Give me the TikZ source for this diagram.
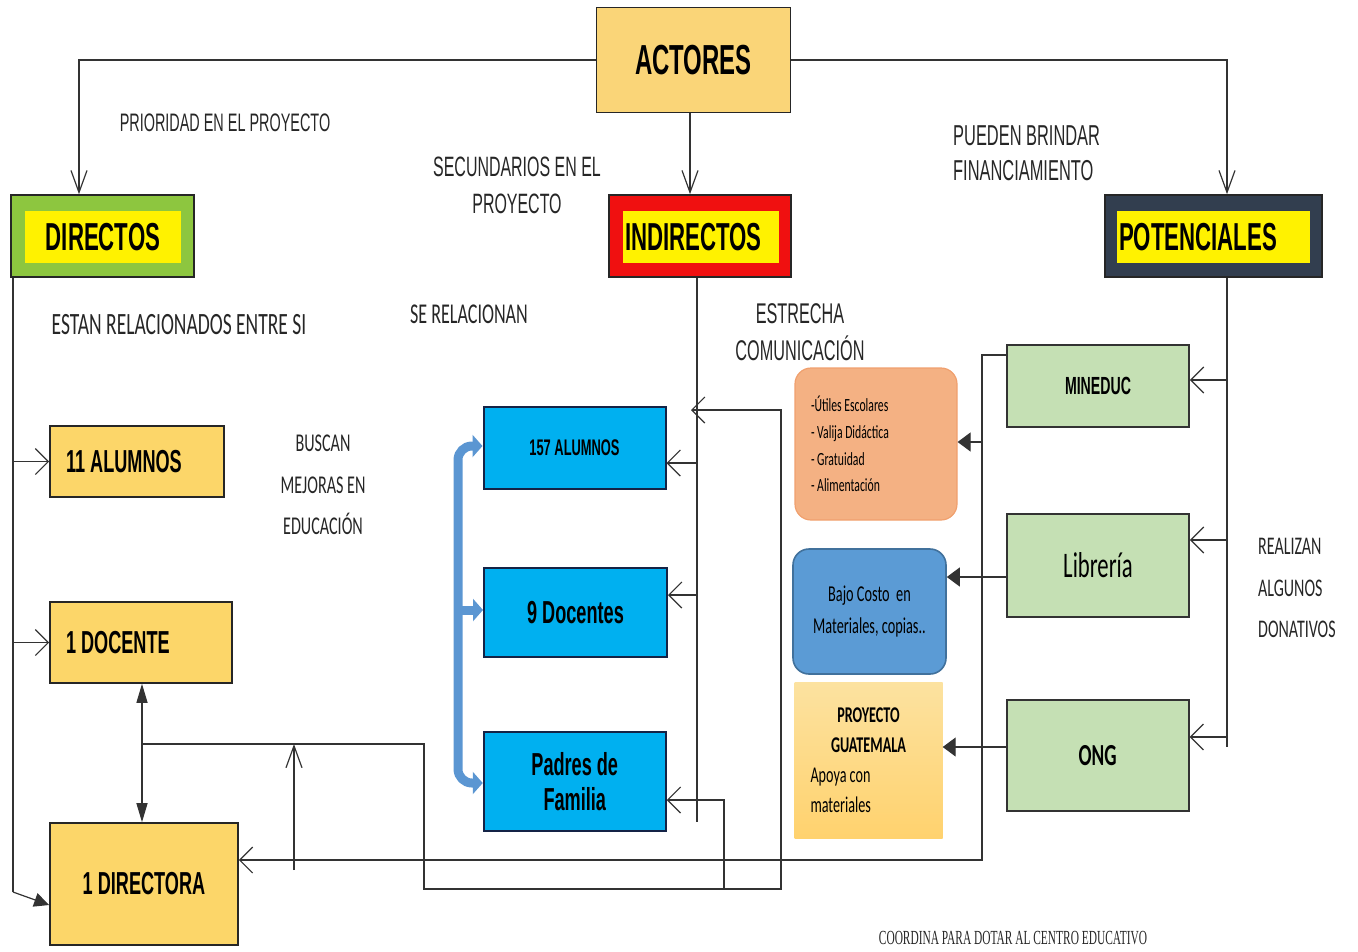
\documentclass[tikz,border=0pt]{standalone}
\usepackage{fontspec}
\setmainfont{Liberation Sans}
\newfontfamily\arialn[FakeStretch=0.57]{Liberation Sans}
\newfontfamily\calib[FakeStretch=0.63]{Carlito}
\newfontfamily\timesn[FakeStretch=0.57]{Liberation Serif}
\usetikzlibrary{arrows.meta,positioning,calc}
\definecolor{actorgold}{RGB}{250,213,120}
\definecolor{boxgold}{RGB}{252,214,105}
\definecolor{dirgreen}{RGB}{141,198,63}
\definecolor{indred}{RGB}{240,16,16}
\definecolor{potnavy}{RGB}{50,62,79}
\definecolor{cyanbox}{RGB}{0,176,240}
\definecolor{cyanedge}{RGB}{20,35,70}
\definecolor{mintgreen}{RGB}{197,224,180}
\definecolor{salmon}{RGB}{244,177,131}
\definecolor{salmonedge}{RGB}{240,160,110}
\definecolor{steelblue}{RGB}{91,155,213}
\definecolor{steeledge}{RGB}{65,113,156}
\definecolor{projtop}{RGB}{252,226,160}
\definecolor{projbot}{RGB}{255,210,110}
\definecolor{pipeblue}{RGB}{91,150,210}
\newcommand{\fsz}[2]{\fontsize{#1}{#2}\selectfont}

\tikzset{
  box/.style={draw=black!85, line width=1.6pt, inner sep=0pt},
  goldbox/.style={box, fill=boxgold},
  catbox/.style={box, minimum width=182, minimum height=82},
  inbox/.style={fill=yellow, inner sep=2pt, minimum height=52, font={\arialn\bfseries\fsz{39}{44}}},
  cyanbx/.style={box, draw=cyanedge, line width=2pt, fill=cyanbox, minimum width=182},
  greenbx/.style={box, draw=black!80, line width=1.8pt, fill=mintgreen, minimum width=182},
  supbox/.style={line width=1.2pt, rounded corners=16pt, inner sep=0pt},
  lbl/.style={text=black!85, inner sep=0pt},
  conn/.style={draw=black!80, line width=1.2pt},
  hbarb/.style={-{Straight Barb[length=13pt,width=26pt]}},
  vbarb/.style={-{Straight Barb[length=22pt,width=16pt]}},
  htri/.style={-{Triangle[length=13pt,width=19pt]}},
  dtri/.style={{Triangle[length=19pt,width=11pt]}-{Triangle[length=19pt,width=11pt]}},
  pipe/.style={draw=pipeblue, line width=9pt, rounded corners=14pt},
}

\begin{document}
\begin{tikzpicture}[x=1pt,y=-1pt]
    \useasboundingbox (0,0) rectangle (1358,951);

    % Head
    \node[box, fill=actorgold, minimum width=194, minimum height=105, font={\arialn\bfseries\fsz{42}{46}}] (actores) at (693.5,60) {ACTORES};

    % Categories
    \node[catbox, fill=dirgreen, minimum width=183] (directos) at (102.5,236) {};
    \node[inbox, text width=152, align=flush center] (directosT) at (103,237) {DIRECTOS};
    \node[catbox, fill=indred] (indirectos) at (700,236) {};
    \node[inbox, text width=152, align=flush left] (indirectosT) at (701,237) {INDIRECTOS};
    \node[catbox, fill=potnavy, minimum width=217] (potenciales) at (1213.5,236) {};
    \node[inbox, text width=189, align=flush left] (potencialesT) at (1213.5,237) {POTENCIALES};

    % Direct actors
    \node[goldbox, minimum height=71, text width=142, inner xsep=16pt, align=flush left, font={\arialn\bfseries\fsz{31.8}{36}}] (alum11) at (137,461.5) {11 ALUMNOS};
    \node[goldbox, minimum height=81, text width=150, inner xsep=16pt, align=flush left, font={\arialn\bfseries\fsz{31.8}{36}}] (docente1) at (141,642.5) {1 DOCENTE};
    \node[goldbox, minimum width=188, minimum height=122, font={\arialn\bfseries\fsz{31.8}{36}}] (directora1) at (144,884) {1 DIRECTORA};

    % Indirect actors
    \node[cyanbx, minimum height=82, font={\arialn\bfseries\fsz{22.6}{26}}] (alum157) at (574.5,448) {157 ALUMNOS};
    \node[cyanbx, minimum width=183, minimum height=89, font={\arialn\bfseries\fsz{31.8}{36}}] (docentes9) at (575.5,612.5) {9 Docentes};
    \node[cyanbx, minimum height=99, align=flush center, font={\arialn\bfseries\fsz{31.8}{35}}] (padres) at (574.75,781.5) {Padres de\\Familia};

    % Supports
    \node[supbox, fill=salmon, draw=salmonedge, text width=130, inner xsep=16pt, minimum height=152, align=flush left, font={\calib\fsz{18.6}{26.7}}] (utiles) at (876,444) {-Útiles Escolares\\- Valija Didáctica\\- Gratuidad\\- Alimentación};
    \node[supbox, fill=steelblue, draw=steeledge, line width=1.6pt, minimum width=153, minimum height=125, align=flush center, font={\calib\fsz{22.7}{32}}] (bajocosto) at (869.5,611.5) {Bajo Costo~~en\\Materiales, copias..};
    \node[inner sep=0pt, top color=projtop, bottom color=projbot, text width=116, inner xsep=16pt, minimum height=156, align=flush left, font={\calib\fsz{22.5}{30}}] (proyguate) at (868.5,760) {\makebox[\linewidth]{\bfseries PROYECTO}\\\makebox[\linewidth]{\bfseries GUATEMALA}\\Apoya con\\materiales};

    % Potential actors
    \node[greenbx, minimum height=82, font={\arialn\bfseries\fsz{24.8}{28}}] (mineduc) at (1098,386) {MINEDUC};
    \node[greenbx, minimum height=103, font={\calib\fsz{36}{40}}] (libreria) at (1098,565.5) {Librería};
    \node[greenbx, minimum height=111, font={\calib\bfseries\fsz{30.6}{34}}] (ong) at (1097.7,755.5) {ONG};

    % Labels
    \node[lbl, font={\arialn\fsz{25.3}{30}}] (lblPrioridad) at (225,123) {PRIORIDAD EN EL PROYECTO};
    \node[lbl, align=flush center, font={\arialn\fsz{28}{37}}] (lblSecund) at (517,185.5) {SECUNDARIOS EN EL\\PROYECTO};
    \node[lbl, align=flush left, anchor=west, font={\arialn\fsz{28.8}{35}}] (lblFinanc) at (953,153.5) {PUEDEN BRINDAR\\FINANCIAMIENTO};
    \node[lbl, font={\calib\fsz{31}{36}}] (lblEstan) at (179,325) {ESTAN RELACIONADOS ENTRE SI};
    \node[lbl, font={\calib\fsz{28.7}{34}}] (lblSeRel) at (469,314) {SE RELACIONAN};
    \node[lbl, align=flush center, font={\calib\fsz{25.6}{41.5}}] (lblBuscan) at (323,485) {BUSCAN\\MEJORAS EN\\EDUCACIÓN};
    \node[lbl, align=flush center, font={\arialn\fsz{28.5}{37}}] (lblEstrecha) at (800,332.5) {ESTRECHA\\COMUNICACIÓN};
    \node[lbl, align=flush left, anchor=west, font={\calib\fsz{25.4}{41.5}}] (lblDonativos) at (1258,588) {REALIZAN\\ALGUNOS\\DONATIVOS};
    \node[lbl, font={\timesn\fsz{20}{24}}] (lblCoordina) at (1013,938) {COORDINA PARA DOTAR AL CENTRO EDUCATIVO};

    % Actores to categories
    \draw[conn, vbarb] (actores.west) -| (directos.north -| 79,0);
    \draw[conn, vbarb] (actores.south -| 690,0) -- (indirectos.north -| 690,0);
    \draw[conn, vbarb] (actores.east) -| (potenciales.north -| 1227,0);

    % Direct trunk
    \coordinate (dirbend) at (13,892);
    \draw[conn] (directos.south -| 13,0) -- (dirbend);
    \draw[conn, -{Triangle[length=15pt,width=14pt]}] (dirbend) -- (directora1.west |- 0,905);
    \draw[conn, hbarb] (alum11.west -| 13,0) -- (alum11.west);
    \draw[conn, hbarb] (docente1.west -| 13,0) -- (docente1.west);
    \draw[conn, dtri] (docente1.south -| 142,0) -- (directora1.north -| 142,0);

    % Loops at the bottom
    \draw[conn, hbarb] (docente1.south |- 0,744) -| (424,889) -| (781,410) -- (691,410);
    \draw[conn, hbarb] (724,889) |- (padres.east |- 0,800);
    \draw[conn, vbarb] (294,870) -- (294,744);
    \draw[conn, hbarb] (mineduc.west |- 0,355) -| (982,860) -- (directora1.east |- 0,860);

    % Indirect trunk
    \draw[conn] (indirectos.south -| 697,0) -- (697,822);
    \draw[conn, hbarb] (697,463) -- (alum157.east |- 0,463);
    \draw[conn, hbarb] (697,595) -- (docentes9.east |- 0,595);

    % Blue pipe
    \draw[pipe, {Triangle[length=10pt,width=22pt]}-{Triangle[length=10pt,width=22pt]}] (alum157.west |- 0,446) -| (458,610) |- (padres.west |- 0,783);
    \draw[pipe, -{Triangle[length=10pt,width=22pt]}] (456,610) -- (docentes9.west |- 0,610);

    % Potential trunk
    \draw[conn] (potenciales.south -| 1227,0) -- (1227,747);
    \draw[conn, hbarb] (1227,380) -- (mineduc.east |- 0,380);
    \draw[conn, hbarb] (1227,540) -- (libreria.east |- 0,540);
    \draw[conn, hbarb] (1227,737) -- (ong.east |- 0,737);

    % Supports
    \draw[conn, htri] (982,442) -- (utiles.east |- 0,442);
    \draw[conn, htri] (libreria.west |- 0,577) -- (bajocosto.east |- 0,577);
    \draw[conn, htri] (ong.west |- 0,747) -- (proyguate.east |- 0,747);
\end{tikzpicture}
\end{document}
